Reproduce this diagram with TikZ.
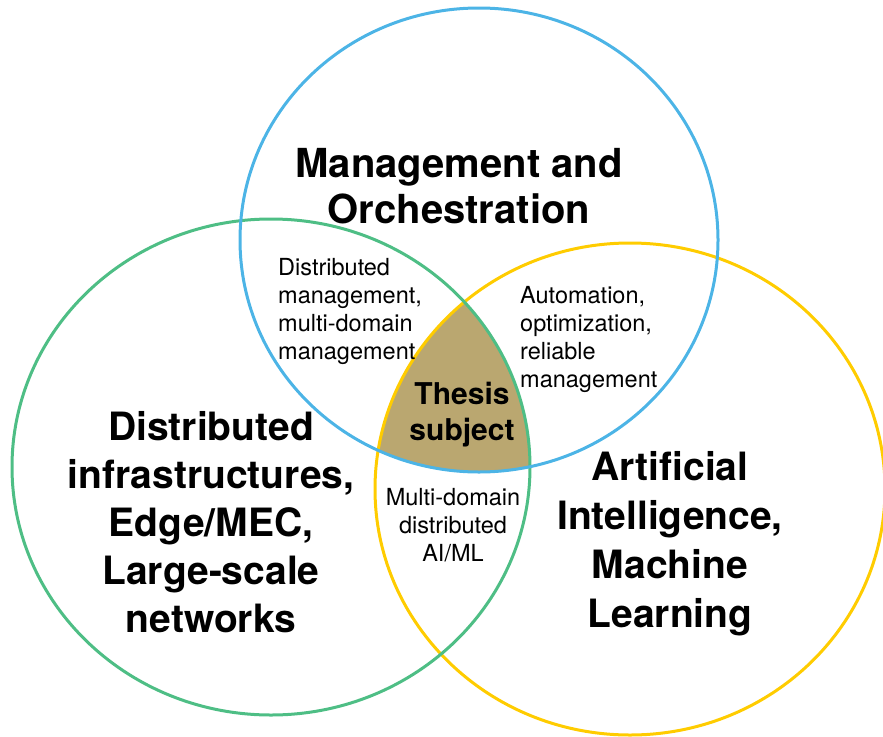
\documentclass[tikz,border=0pt]{standalone}
\usepackage{fontspec}
\setmainfont{TeX Gyre Heros}
\definecolor{mgmtblue}{RGB}{76,180,230}
\definecolor{infragreen}{RGB}{78,190,133}
\definecolor{aigold}{RGB}{255,204,0}
\definecolor{thesisfill}{RGB}{186,167,112}
\begin{document}
\begin{tikzpicture}[x=1pt,y=-1pt,
    ring/.style={line width=3pt},
    bigtext/.style={align=center,inner sep=0pt,font=\fontsize{39}{48}\selectfont\bfseries},
    midtext/.style={align=center,inner sep=0pt,font=\fontsize{30}{36}\selectfont\bfseries},
    smalltext/.style={inner sep=0pt,font=\fontsize{23.5}{28}\selectfont}]
    \useasboundingbox (0,0) rectangle (883,736);
    % shared area of the three sets
    \begin{scope}
        \clip (479,240) ellipse [x radius=239, y radius=232];
        \clip (271,467) ellipse [x radius=259, y radius=248];
        \fill[thesisfill] (630,489) ellipse [x radius=255, y radius=246];
    \end{scope}
    \draw[ring, aigold] (630,489) ellipse [x radius=255, y radius=246];
    \draw[ring, infragreen] (271,467) ellipse [x radius=259, y radius=248];
    \draw[ring, mgmtblue] (479,240) ellipse [x radius=239, y radius=232];
    % labels
    \node[bigtext, font=\fontsize{40}{46}\selectfont\bfseries] (mgmt) at (459,186) {Management and\\Orchestration};
    \node[bigtext] (infra) at (211,522) {Distributed\\infrastructures,\\Edge/MEC,\\Large-scale\\networks};
    \node[bigtext, font=\fontsize{39}{49}\selectfont\bfseries] (ai) at (670,544) {Artificial\\Intelligence,\\Machine\\Learning};
    \node[midtext] (thesis) at (462,415) {Thesis\\subject};
    \node[smalltext, align=left, anchor=west] (mgmtinfra) at (278,311) {Distributed\\management,\\multi-domain\\management};
    \node[smalltext, align=left, anchor=west] (mgmtai) at (520,339) {Automation,\\optimization,\\reliable\\management};
    \node[smalltext, align=center] (infraai) at (453,525) {Multi-domain\\distributed\\AI/ML};
\end{tikzpicture}
\end{document}
